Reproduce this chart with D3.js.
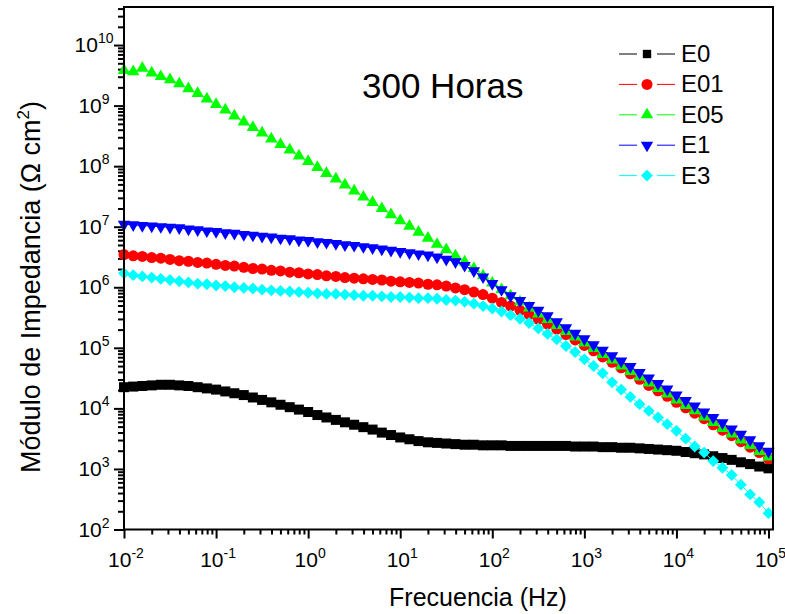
<!DOCTYPE html>
<html lang="en">
    <head>
	<meta charset="utf-8">
	<title>Impedancia 300 Horas</title>
	<script src="https://d3js.org/d3.v7.min.js" charset="utf-8"></script>
	<style>
	 body {
	     margin: 0;
	     background: #fff;
	 }
	 text {
	     font-family: "Liberation Sans", Arial, sans-serif;
	     fill: #000;
	 }
	</style>
    </head>
    <body>
	<script type="text/javascript">

	 //Frequencies (Hz), 10 points per decade
	 var freq = [0.01, 0.0126, 0.0158, 0.02, 0.0251, 0.0316, 0.0398, 0.0501, 0.0631, 0.0794,
		     0.1, 0.126, 0.158, 0.2, 0.251, 0.316, 0.398, 0.501, 0.631, 0.794,
		     1, 1.26, 1.58, 2, 2.51, 3.16, 3.98, 5.01, 6.31, 7.94,
		     10, 12.6, 15.8, 20, 25.1, 31.6, 39.8, 50.1, 63.1, 79.4,
		     100, 126, 158, 200, 251, 316, 398, 501, 631, 794,
		     1000, 1260, 1580, 2000, 2510, 3160, 3980, 5010, 6310, 7940,
		     10000, 12600, 15800, 20000, 25100, 31600, 39800, 50100, 63100, 79400,
		     100000];

	 //log10 |Z| (Ohm cm2)
	 var logE0 = [4.35, 4.36, 4.37, 4.38, 4.39, 4.39, 4.38, 4.37, 4.35, 4.33,
		      4.31, 4.28, 4.25, 4.22, 4.18, 4.14, 4.10, 4.06, 4.02, 3.98,
		      3.94, 3.89, 3.85, 3.81, 3.77, 3.73, 3.69, 3.65, 3.60, 3.56,
		      3.52, 3.49, 3.46, 3.44, 3.43, 3.42, 3.41, 3.40, 3.40, 3.39,
		      3.39, 3.39, 3.38, 3.38, 3.38, 3.38, 3.38, 3.38, 3.38, 3.37,
		      3.37, 3.37, 3.36, 3.36, 3.35, 3.35, 3.34, 3.33, 3.32, 3.31,
		      3.30, 3.28, 3.26, 3.24, 3.21, 3.18, 3.15, 3.11, 3.08, 3.04,
		      3.01];

	 var logE01 = [6.54, 6.52, 6.51, 6.49, 6.48, 6.46, 6.44, 6.43, 6.41, 6.40,
		       6.38, 6.36, 6.35, 6.33, 6.31, 6.30, 6.28, 6.27, 6.25, 6.24,
		       6.22, 6.21, 6.19, 6.18, 6.16, 6.15, 6.14, 6.13, 6.12, 6.10,
		       6.09, 6.08, 6.07, 6.05, 6.04, 6.02, 5.99, 5.96, 5.92, 5.88,
		       5.82, 5.75, 5.69, 5.62, 5.55, 5.47, 5.39, 5.31, 5.22, 5.13,
		       5.04, 4.95, 4.85, 4.76, 4.67, 4.57, 4.48, 4.38, 4.29, 4.20,
		       4.10, 4.01, 3.92, 3.83, 3.73, 3.64, 3.55, 3.45, 3.36, 3.27,
		       3.17];

	 var logE05 = [9.58, 9.56, 9.62, 9.54, 9.48, 9.43, 9.36, 9.28, 9.20, 9.11,
		       9.02, 8.93, 8.83, 8.73, 8.64, 8.55, 8.45, 8.36, 8.27, 8.17,
		       8.08, 7.98, 7.88, 7.79, 7.69, 7.59, 7.49, 7.40, 7.30, 7.20,
		       7.10, 7.01, 6.91, 6.81, 6.71, 6.62, 6.52, 6.42, 6.31, 6.19,
		       6.07, 5.96, 5.86, 5.76, 5.66, 5.56, 5.47, 5.37, 5.27, 5.18,
		       5.08, 4.99, 4.89, 4.80, 4.70, 4.61, 4.52, 4.42, 4.33, 4.24,
		       4.14, 4.05, 3.96, 3.86, 3.77, 3.67, 3.58, 3.48, 3.39, 3.29,
		       3.20];

	 var logE1 = [7.04, 7.03, 7.02, 7.01, 7.00, 6.99, 6.98, 6.96, 6.95, 6.93,
		      6.92, 6.90, 6.89, 6.87, 6.86, 6.84, 6.83, 6.81, 6.80, 6.78,
		      6.77, 6.75, 6.74, 6.72, 6.70, 6.69, 6.67, 6.65, 6.63, 6.61,
		      6.59, 6.57, 6.55, 6.53, 6.50, 6.46, 6.42, 6.36, 6.27, 6.17,
		      6.06, 5.96, 5.86, 5.78, 5.70, 5.62, 5.53, 5.43, 5.33, 5.24,
		      5.15, 5.05, 4.96, 4.87, 4.78, 4.69, 4.59, 4.50, 4.41, 4.32,
		      4.22, 4.13, 4.04, 3.94, 3.85, 3.76, 3.66, 3.57, 3.48, 3.38,
		      3.29];

	 var logE3 = [6.23, 6.20, 6.18, 6.16, 6.14, 6.12, 6.10, 6.08, 6.06, 6.05,
		      6.03, 6.02, 6.00, 5.99, 5.98, 5.96, 5.95, 5.94, 5.93, 5.92,
		      5.91, 5.90, 5.89, 5.89, 5.88, 5.87, 5.86, 5.86, 5.85, 5.84,
		      5.84, 5.83, 5.82, 5.82, 5.81, 5.79, 5.78, 5.76, 5.73, 5.69,
		      5.65, 5.60, 5.54, 5.48, 5.41, 5.32, 5.23, 5.14, 5.03, 4.93,
		      4.81, 4.70, 4.58, 4.43, 4.31, 4.19, 4.07, 3.96, 3.85, 3.74,
		      3.63, 3.50, 3.37, 3.27, 3.13, 3.02, 2.90, 2.74, 2.58, 2.45,
		      2.27];

	 var seriesNames = ["E0", "E01", "E05", "E1", "E3"];
	 var seriesColors = ["#000000", "#ff0000", "#00ff00", "#0000ff", "#00ffff"];
	 var seriesLogs = [logE0, logE01, logE05, logE1, logE3];

	 //Display specifications
	 var W = 785, H = 614;
	 var plot = {left: 124, right: 773, top: 7, bottom: 529.5};

	 var svg = d3.select("body")
		     .append("svg")
		     .attr("width", W)
		     .attr("height", H);

	 //Log scales
	 var xScale = d3.scaleLog()
			.domain([0.01, 1.119e5])
			.range([plot.left, plot.right]);

	 var yScale = d3.scaleLog()
			.domain([100, 4.25e10])
			.range([plot.bottom, plot.top]);

	 var isMajor = function (v) {
	     var e = Math.log10(v);
	     return Math.abs(e - Math.round(e)) < 1e-6;
	 };

	 //Y axis (ticks only, labels drawn below)
	 var yAxis = svg.append("g")
			.attr("transform", "translate(" + plot.left + ",0)")
			.call(d3.axisLeft(yScale).tickFormat("").tickSizeOuter(0));
	 yAxis.select(".domain").remove();
	 yAxis.selectAll(".tick line")
	      .attr("x2", function (d) { return isMajor(d) ? -10 : -6; })
	      .attr("stroke-width", 2);

	 //X axis
	 var xAxis = svg.append("g")
			.attr("transform", "translate(0," + plot.bottom + ")")
			.call(d3.axisBottom(xScale).tickFormat("").tickSizeOuter(0));
	 xAxis.select(".domain").remove();
	 xAxis.selectAll(".tick line")
	      .attr("y2", function (d) { return isMajor(d) ? 9 : 5; })
	      .attr("stroke-width", 2);

	 //Tick labels as 10^n
	 var yMajor = yScale.ticks().filter(isMajor);
	 var yLab = svg.append("g").selectAll("text")
		       .data(yMajor)
		       .enter()
		       .append("text")
		       .attr("x", 94)
		       .attr("y", function (d) { return yScale(d) + 7; })
		       .attr("text-anchor", "middle")
		       .attr("font-size", "21px");
	 yLab.append("tspan").text("10");
	 yLab.append("tspan")
	     .attr("dy", -9)
	     .attr("font-size", "14px")
	     .text(function (d) { return Math.round(Math.log10(d)); });

	 var xMajor = xScale.ticks().filter(isMajor);
	 var xLab = svg.append("g").selectAll("text")
		       .data(xMajor)
		       .enter()
		       .append("text")
		       .attr("x", function (d) { return xScale(d) + 2; })
		       .attr("y", 567)
		       .attr("text-anchor", "middle")
		       .attr("font-size", "21px");
	 xLab.append("tspan").text("10");
	 xLab.append("tspan")
	     .attr("dy", -9)
	     .attr("font-size", "14px")
	     .text(function (d) { return Math.round(Math.log10(d)); });

	 //Symbols
	 var symbolFor = function (i) {
	     if (i == 0) return {type: d3.symbolSquare, size: 100, rot: 0};
	     if (i == 1) return {type: d3.symbolCircle, size: 95, rot: 0};
	     if (i == 2) return {type: d3.symbolTriangle, size: 66, rot: 0};
	     if (i == 3) return {type: d3.symbolTriangle, size: 66, rot: 180};
	     return {type: d3.symbolSquare, size: 70, rot: 45};
	 };

	 var line = d3.line()
		      .x(function (d) { return xScale(d.f); })
		      .y(function (d) { return yScale(d.z); });

	 seriesLogs.forEach(function (logs, i) {
	     var pts = freq.map(function (f, k) { return {f: f, z: Math.pow(10, logs[k])}; });
	     var sym = symbolFor(i);
	     var g = svg.append("g");
	     g.append("path")
	      .attr("d", line(pts))
	      .attr("fill", "none")
	      .attr("stroke", seriesColors[i])
	      .attr("stroke-width", 1);
	     g.selectAll("path.pt")
	      .data(pts)
	      .enter()
	      .append("path")
	      .attr("class", "pt")
	      .attr("d", d3.symbol().type(sym.type).size(sym.size))
	      .attr("transform", function (d) {
		  return "translate(" + xScale(d.f) + "," + yScale(d.z) + ") rotate(" + sym.rot + ")";
	      })
	      .attr("fill", seriesColors[i]);
	 });

	 //Frame
	 svg.append("rect")
	    .attr("x", plot.left)
	    .attr("y", plot.top)
	    .attr("width", plot.right - plot.left)
	    .attr("height", plot.bottom - plot.top)
	    .attr("fill", "none")
	    .attr("stroke", "#000")
	    .attr("stroke-width", 2);

	 //Legend
	 var legY0 = 54, legStep = 30.4;
	 seriesNames.forEach(function (name, i) {
	     var y = legY0 + i * legStep;
	     var sym = symbolFor(i);
	     svg.append("line")
		.attr("x1", 619).attr("x2", 637)
		.attr("y1", y).attr("y2", y)
		.attr("stroke", seriesColors[i]).attr("stroke-width", 1);
	     svg.append("line")
		.attr("x1", 657).attr("x2", 675)
		.attr("y1", y).attr("y2", y)
		.attr("stroke", seriesColors[i]).attr("stroke-width", 1);
	     svg.append("path")
		.attr("d", d3.symbol().type(sym.type).size(i == 0 ? 70 : sym.size))
		.attr("transform", "translate(647," + y + ") rotate(" + sym.rot + ")")
		.attr("fill", seriesColors[i]);
	     svg.append("text")
		.attr("x", 681)
		.attr("y", y + 8)
		.attr("font-size", "24px")
		.text(name);
	 });

	 //Annotation
	 svg.append("text")
	    .attr("x", 362)
	    .attr("y", 98)
	    .attr("font-size", "35px")
	    .text("300 Horas");

	 //Axis titles
	 svg.append("text")
	    .attr("x", 478)
	    .attr("y", 606)
	    .attr("text-anchor", "middle")
	    .attr("font-size", "25px")
	    .text("Frecuencia (Hz)");

	 var yTitle = svg.append("text")
			 .attr("transform", "translate(40,287) rotate(-90)")
			 .attr("text-anchor", "middle")
			 .attr("font-size", "27px");
	 yTitle.append("tspan").text("Módulo de Impedancia (Ω cm");
	 yTitle.append("tspan").attr("dy", -11).attr("font-size", "17px").text("2");
	 yTitle.append("tspan").attr("dy", 11).text(")");

	</script>
    </body>
</html>
